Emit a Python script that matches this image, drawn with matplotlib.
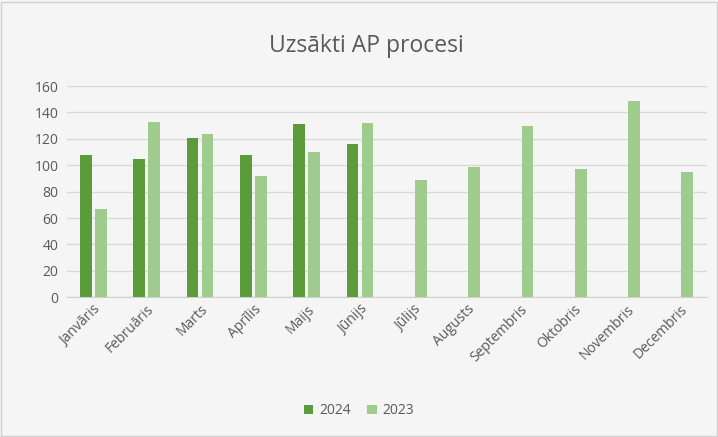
import matplotlib.pyplot as plt
import numpy as np
from matplotlib.patches import Rectangle

plt.rcParams['font.family'] = ['Open Sans', 'DejaVu Sans']

months = ['Janvāris', 'Februāris', 'Marts', 'Aprīlis', 'Maijs', 'Jūnijs',
          'Jūlijs', 'Augusts', 'Septembris', 'Oktobris', 'Novembris', 'Decembris']
v2024 = [108, 105, 121, 108, 131, 116]
v2023 = [67, 133, 124, 92, 110, 132, 89, 99, 130, 97, 149, 95]

bg = '#f5f5f5'
fig = plt.figure(figsize=(7.18, 4.37), dpi=100, facecolor=bg)
fig.patches.append(Rectangle((0.002, 0.002), 0.996, 0.994, transform=fig.transFigure,
                             fill=False, edgecolor='#d0d0d0', linewidth=1))
ax = fig.add_axes([0.093, 0.32, 0.891, 0.483], facecolor=bg)

x = np.arange(len(months))
w = 0.22
ax.bar(x[:len(v2024)] - 0.14, v2024, w, color='#5b9c3a', label='2024', zorder=3)
ax.bar(x + 0.14, v2023, w, color='#9fcb8c', label='2023', zorder=3)

ax.set_ylim(0, 160)
ax.set_xlim(-0.5, 11.5)
ax.set_yticks(range(0, 161, 20))
ax.yaxis.grid(True, color='#d9d9d9', linewidth=1, zorder=0)
for s in ['top', 'right', 'left']:
    ax.spines[s].set_visible(False)
ax.spines['bottom'].set_color('#d0d0d0')
ax.tick_params(axis='both', length=0, colors='#595959', labelsize=10)
ax.tick_params(axis='y', pad=6)
ax.set_xticks(x)
ax.set_xticklabels(months, rotation=45, ha='right', rotation_mode='anchor')

fig.text(0.51, 0.895, 'Uzsākti AP procesi', ha='center', va='center', fontsize=16.5, color='#595959')
fig.legend(loc='center', bbox_to_anchor=(0.5, 0.06), ncol=2, frameon=False,
           fontsize=10, labelcolor='#595959', handlelength=0.7, handleheight=0.7,
           columnspacing=1.2, handletextpad=0.4)

fig.savefig('out.png', dpi=100, facecolor=bg)
